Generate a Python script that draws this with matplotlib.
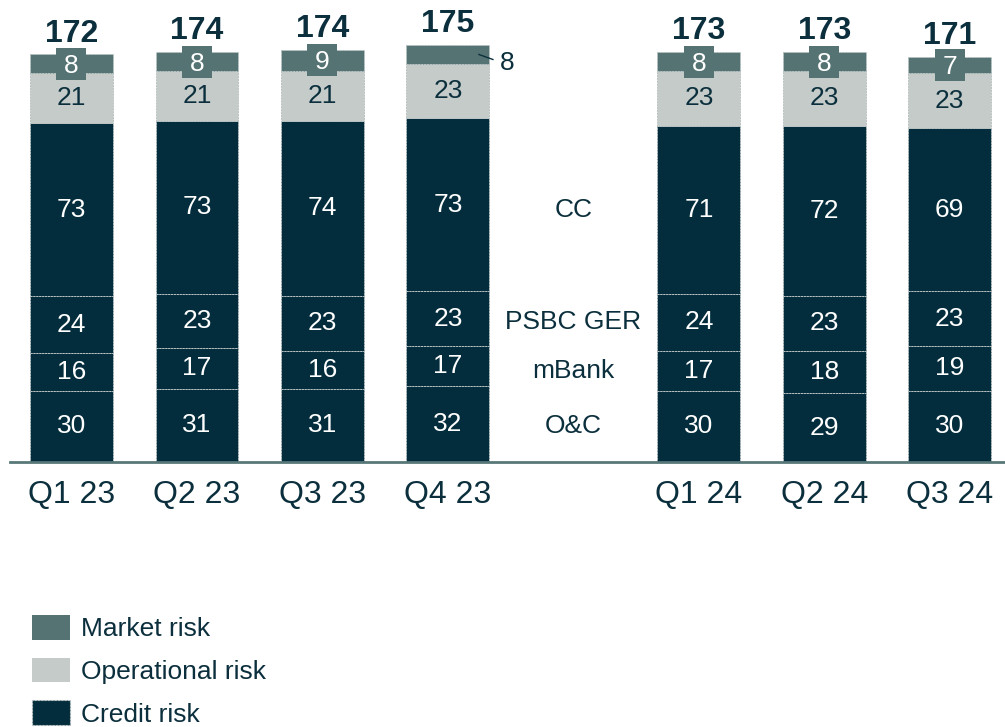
import matplotlib
matplotlib.use("Agg")
import matplotlib.pyplot as plt
from matplotlib.patches import Patch, Rectangle

plt.rcParams['font.family'] = ['Liberation Sans', 'DejaVu Sans']

quarters = ["Q1 23", "Q2 23", "Q3 23", "Q4 23", "Q1 24", "Q2 24", "Q3 24"]
oc = [30, 31, 31, 32, 30, 29, 30]
mbank = [16, 17, 16, 17, 17, 18, 19]
psbc = [24, 23, 23, 23, 24, 23, 23]
cc = [73, 73, 74, 73, 71, 72, 69]
operational = [21, 21, 21, 23, 23, 23, 23]
market = [8, 8, 9, 8, 8, 8, 7]
totals = [172, 174, 174, 175, 173, 173, 171]
credit_names = ["O&C", "mBank", "PSBC GER", "CC"]

C_MARKET = "#557373"
C_OPER = "#c5cbc9"
C_CREDIT = "#032d3c"
C_TEXT = "#0b2f3c"
C_EDGE = "#b9c3c3"

W, H, DPI = 1005, 727, 100
fig = plt.figure(figsize=(W / DPI, H / DPI), dpi=DPI)
ax_bottom_px = 462
ax = fig.add_axes([10 / W, (H - ax_bottom_px) / H, (W - 10) / W, ax_bottom_px / H])
ax.set_xlim(-0.49, 7.44)
ax.set_ylim(0, 195)

pos = [0, 1, 2, 3, 5, 6, 7]
bw = 0.66
px_x = (W - 10) / (7.44 + 0.49)
px_y = ax_bottom_px / 195.0

credit_series = [oc, mbank, psbc, cc]
bottoms = [0] * len(pos)
centers = []
for ser in credit_series:
    ax.bar(pos, ser, bw, bottom=bottoms, color=C_CREDIT, edgecolor=C_EDGE,
           linewidth=0.7, linestyle=(0, (2, 1)))
    centers.append([b + v / 2 for b, v in zip(bottoms, ser)])
    for p, b, v in zip(pos, bottoms, ser):
        ax.text(p, b + v / 2, str(v), ha='center', va='center', color='white', fontsize=19)
    bottoms = [b + v for b, v in zip(bottoms, ser)]

ax.bar(pos, operational, bw, bottom=bottoms, color=C_OPER, edgecolor=C_EDGE,
       linewidth=0.7, linestyle=(0, (2, 1)))
for p, b, v in zip(pos, bottoms, operational):
    ax.text(p, b + v / 2, str(v), ha='center', va='center', color=C_TEXT, fontsize=19)
bottoms = [b + v for b, v in zip(bottoms, operational)]

ax.bar(pos, market, bw, bottom=bottoms, color=C_MARKET, edgecolor=C_EDGE,
       linewidth=0.7, linestyle=(0, (2, 1)))
box_w = 30 / px_x
box_h = 32 / px_y
for i, (p, b, v) in enumerate(zip(pos, bottoms, market)):
    yc = b + v / 2
    if quarters[i] == "Q4 23":
        ax.plot([p + 31 / px_x, p + 45 / px_x], [yc + 0 / px_y, yc - 5 / px_y],
                color=C_TEXT, lw=1)
        ax.text(p + 59 / px_x, yc - 9 / px_y, str(v), ha='center', va='center',
                color=C_TEXT, fontsize=19)
    else:
        ax.add_patch(Rectangle((p - box_w / 2, yc - box_h / 2), box_w, box_h,
                               facecolor=C_MARKET, edgecolor='none', zorder=3))
        ax.text(p, yc - 2 / px_y, str(v), ha='center', va='center', color='white',
                fontsize=19, zorder=4)
tops = [b + v for b, v in zip(bottoms, market)]

for p, t, tot in zip(pos, tops, totals):
    ax.annotate(str(tot), (p, t), xytext=(0, 15), textcoords='offset points',
                ha='center', va='center', fontsize=23, fontweight='bold', color=C_TEXT)

# segment names in the gap
for name, cen in zip(credit_names, centers):
    ax.text(4, cen[4], name, ha='center', va='center', fontsize=19, color=C_TEXT)

ax.set_xticks(pos)
ax.set_xticklabels(quarters, fontsize=23, color=C_TEXT)
ax.tick_params(axis='x', length=0, pad=13)
ax.set_yticks([])
for s in ['top', 'right', 'left']:
    ax.spines[s].set_visible(False)
ax.spines['bottom'].set_color("#587878")
ax.spines['bottom'].set_linewidth(2)

handles = [Patch(facecolor=C_MARKET, edgecolor='none', label="Market risk"),
           Patch(facecolor=C_OPER, edgecolor='none', label="Operational risk"),
           Patch(facecolor=C_CREDIT, edgecolor=C_EDGE, linestyle=(0, (2, 1)), linewidth=0.8,
                 label="Credit risk")]
leg = fig.legend(handles=handles, loc='upper left', bbox_to_anchor=(32 / W, 1 - 615 / H),
                 frameon=False, fontsize=19, handlelength=1.44, handleheight=1.06,
                 handletextpad=0.4, labelspacing=0.62, borderpad=0, borderaxespad=0)
for t in leg.get_texts():
    t.set_color(C_TEXT)

fig.savefig("out.png", dpi=DPI)
